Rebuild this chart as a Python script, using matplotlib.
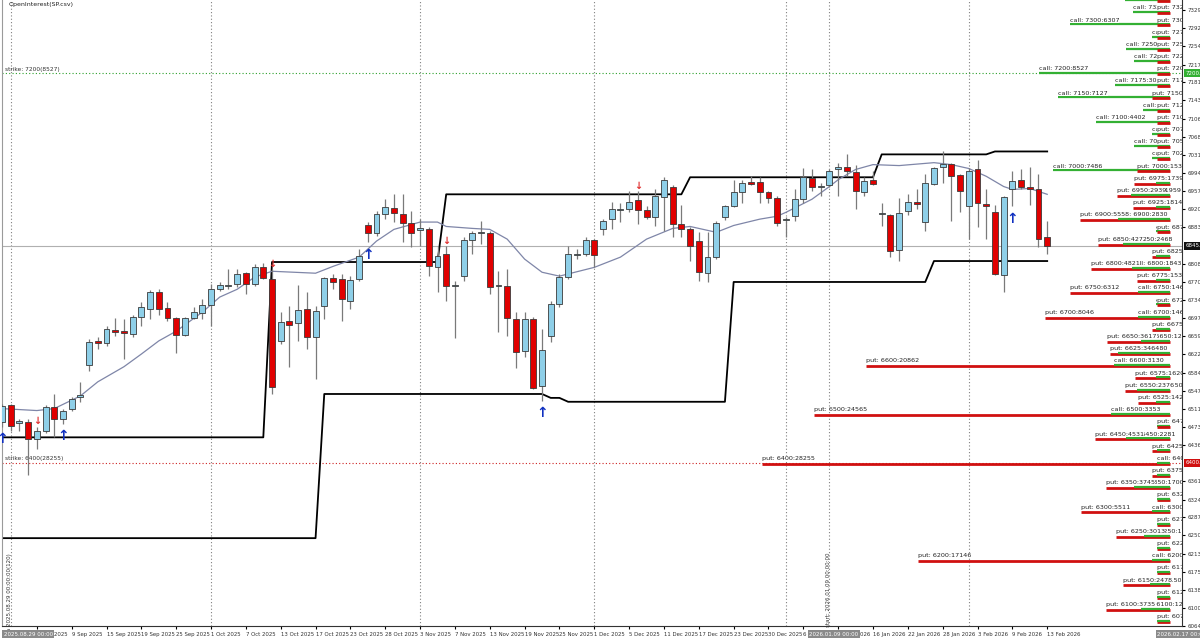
import numpy as np
import matplotlib
matplotlib.use("Agg")
import matplotlib.pyplot as plt
from matplotlib.transforms import offset_copy

# ---------------- data ----------------
opens = [6484,6519,6482,6484,6449,6464,6515,6490,6511,6535,6601,6650,6646,6672,6670,6664,6699,6715,6750,6717,
         6697,6662,6697,6707,6724,6756,6763,6767,6789,6767,6801,6777,6650,6691,6687,6715,6658,6722,6779,6777,
         6732,6777,6887,6871,6910,6922,6910,6892,6877,6879,6801,6828,6763,6783,6857,6871,6871,6763,6763,6695,
         6630,6695,6558,6660,6726,6781,6826,6828,6857,6879,6900,6918,6920,6939,6918,6904,6945,6967,6890,6879,
         6855,6789,6822,6904,6928,6955,6977,6977,6955,6943,6898,6906,6941,6984,6965,6971,7004,7008,6996,6955,
         6981,6910,6908,6836,6916,6936,6894,6973,7008,7014,6990,6928,7002,6932,6914,6785,6961,6981,6965,6961,6863]
highs = [6521,6521,6490,6490,6474,6519,6541,6511,6535,6566,6654,6658,6681,6697,6695,6703,6730,6754,6756,6730,
         6699,6699,6720,6736,6767,6771,6797,6797,6791,6808,6810,6797,6709,6722,6765,6750,6722,6781,6787,6787,
         6783,6838,6894,6916,6941,6951,6951,6916,6900,6883,6844,6844,6773,6863,6875,6896,6875,6793,6797,6709,
         6709,6699,6674,6732,6787,6844,6838,6863,6859,6900,6936,6934,6957,6957,6926,6961,6986,6971,6930,6883,
         6873,6873,6896,6930,6981,6981,6988,6986,6957,6947,6904,6961,7006,7002,6975,7002,7016,7033,7012,6986,
         6998,6934,6910,6943,6951,6961,6992,7008,7039,7016,6992,7006,7022,6961,6930,6947,6998,7002,7008,6992,6896]
lows = [6474,6464,6464,6374,6429,6460,6453,6480,6507,6525,6589,6634,6640,6660,6613,6658,6681,6695,6703,6691,
        6625,6660,6695,6695,6681,6752,6756,6761,6746,6763,6777,6541,6644,6597,6650,6634,6572,6695,6756,6691,
        6715,6773,6853,6865,6900,6894,6853,6842,6844,6783,6750,6732,6656,6773,6828,6848,6746,6668,6660,6595,
        6617,6552,6527,6648,6720,6777,6818,6824,6801,6867,6879,6894,6914,6890,6900,6885,6875,6863,6863,6814,
        6773,6771,6818,6898,6924,6934,6971,6934,6934,6885,6863,6896,6934,6957,6947,6967,6947,6988,6920,6947,
        6971,6885,6822,6814,6908,6920,6875,6971,6975,6896,6914,6859,6883,6859,6785,6750,6926,6961,6930,6842,6828]
closes = [6517,6476,6486,6449,6464,6515,6490,6507,6531,6539,6648,6646,6674,6668,6666,6699,6720,6750,6715,6697,
          6662,6697,6709,6724,6756,6765,6765,6787,6767,6801,6779,6556,6689,6683,6713,6658,6711,6779,6771,6736,
          6775,6824,6871,6910,6924,6912,6892,6871,6881,6803,6824,6763,6765,6857,6871,6873,6761,6765,6697,6627,
          6695,6554,6632,6726,6781,6828,6828,6857,6826,6896,6920,6920,6936,6918,6904,6947,6981,6890,6879,6844,
          6791,6822,6892,6926,6955,6975,6973,6955,6943,6892,6900,6941,6986,6965,6967,6998,7008,6998,6957,6979,
          6973,6912,6834,6912,6936,6932,6975,7006,7014,6988,6957,6998,6934,6926,6787,6945,6979,6967,6961,6859,6844]

ma_idx = [0,4,6,9,11,14,16,18,20,23,25,27,29,31,36,38,41,43,45,48,50,51,54,56,58,60,62,64,68,71,74,77,79,
          82,84,87,89,90,93,95,96,98,100,103,107,109,111,113,115,116,118,120]
ma_vals = [6511,6507,6511,6537,6566,6597,6623,6650,6670,6709,6740,6756,6781,6793,6789,6803,6822,6855,6879,6894,
           6894,6885,6881,6879,6859,6818,6791,6783,6801,6822,6859,6881,6885,6873,6887,6900,6906,6914,6941,6967,
           6981,7002,7012,7010,7016,7012,7004,6988,6967,6961,6963,6951]

upper_levels = [6452, 6812, 6951, 6986, 7033, 7039]
upper_runs = [31, 20, 28, 22, 13, 7]
lower_levels = [6245, 6541, 6533, 6525, 6771, 6814]
lower_runs = [37, 26, 2, 19, 23, 14]

buy_arrows = [0, 7, 42, 62, 116]
sell_arrows = [4, 31, 51, 73]

strikes = list(range(7350, 6050, -25))
call_oi = [2360,1758,6307,430,2290,1700,8527,3062,7127,1070,4402,430,1700,430,7486,120,1959,150,2830,150,
           2468,150,1843,150,1460,120,1460,150,1250,2880,3130,150,1500,120,3353,100,2281,100,60,80,
           1700,70,430,60,1000,60,430,60,600,60,1200,40]
put_oi = [40,45,60,50,60,50,70,60,430,60,70,60,80,90,1530,1739,2939,1814,5558,80,
          4272,430,4821,1530,6312,90,8046,430,3617,3464,20862,1620,2376,1420,24565,90,4531,430,28255,430,
          3745,90,5511,90,3013,90,17146,90,2478,90,3735,90]

date_labels = ["3 Sep 2025","9 Sep 2025","15 Sep 2025","19 Sep 2025","25 Sep 2025","1 Oct 2025","7 Oct 2025",
               "13 Oct 2025","17 Oct 2025","23 Oct 2025","28 Oct 2025","3 Nov 2025","7 Nov 2025","13 Nov 2025",
               "19 Nov 2025","25 Nov 2025","1 Dec 2025","5 Dec 2025","11 Dec 2025","17 Dec 2025","23 Dec 2025",
               "30 Dec 2025","6 Jan 2026","12 Jan 2026","16 Jan 2026","22 Jan 2026","28 Jan 2026","3 Feb 2026",
               "9 Feb 2026","13 Feb 2026"]
date_pos = list(range(4, 121, 4))
month_lines = [1, 24, 48, 68, 90, 111]

price_ticks = [6064.6,6100.9,6138.3,6175.7,6213.1,6250.5,6287.9,6324.2,6361.6,6436.4,6473.8,6511.2,6547.5,
               6584.9,6622.3,6659.7,6697.1,6734.5,6770.8,6808.3,6883.0,6920.4,6957.8,6994.1,7031.5,7068.9,
               7106.3,7143.7,7181.1,7217.4,7254.8,7292.2,7329.6]
last_price = 6845

# ---------------- figure ----------------
W, H = 1200, 638
fig = plt.figure(figsize=(W/100, H/100), dpi=100)
ax = fig.add_axes([2/W, 12/H, 1180/W, 626/H])
px_per_bar = 8.71
ax.set_xlim(0, 1180/px_per_bar)
ax.set_ylim(6066, 7350)

n = len(opens)
x = np.arange(n)
o = np.array(opens); c = np.array(closes); h = np.array(highs); l = np.array(lows)
up = c >= o

for m in month_lines:
    ax.axvline(m, color="#808080", ls=(0, (1, 2)), lw=0.8, zorder=0)
ax.axvline(95, color="#808080", ls=(0, (1, 2)), lw=0.8, zorder=0)

ax.axhline(7200, color="#2ca02c", ls=(0, (1, 2)), lw=0.8, zorder=0)
ax.axhline(6400, color="#cc2222", ls=(0, (1, 2)), lw=0.8, zorder=0)
ax.axhline(last_price, color="#b0b0b0", lw=0.8, zorder=0)

upper = np.repeat(upper_levels, upper_runs)
lower = np.repeat(lower_levels, lower_runs)
ax.plot(x, upper, color="black", lw=1.3, zorder=2)
ax.plot(x, lower, color="black", lw=1.3, zorder=2)

ax.plot(ma_idx, ma_vals, color="#7f86a8", lw=0.9, zorder=3)

ax.vlines(x, l, h, color="#7a7a7a", lw=0.9, zorder=4)
body_bot = np.minimum(o, c)
body_h = np.maximum(np.abs(c - o), 2.5)
ax.bar(x[up], body_h[up], bottom=body_bot[up], width=0.68, color="#8ecfe8", edgecolor="#3a3a3a", lw=0.6, zorder=5)
ax.bar(x[~up], body_h[~up], bottom=body_bot[~up], width=0.68, color="#e00000", edgecolor="#3a3a3a", lw=0.6, zorder=5)

for i in buy_arrows:
    ax.annotate("\u2191", (i, l[i]), xytext=(0, -9), textcoords="offset points", ha="center", va="center",
                color="#1030c0", fontsize=10, fontweight="bold", zorder=6)
for i in sell_arrows:
    ax.annotate("\u2193", (i, h[i]), xytext=(0, 4), textcoords="offset points", ha="center", va="center",
                color="#e03030", fontsize=7, fontweight="bold", zorder=6)

# open interest bars
end_x = 1168/px_per_bar
trans_txt = offset_copy(ax.transData, fig=fig, x=0, y=1.8, units="dots")
trans_put = offset_copy(ax.transData, fig=fig, x=0, y=-1.0, units="dots")
for s, co, po in zip(strikes, call_oi, put_oi):
    lc = (12 + 0.014*co)/px_per_bar
    lp = (12 + 0.014*po)/px_per_bar
    z_c, z_p = (7.5, 7) if lc < lp else (7, 7.5)
    ax.plot([end_x - lp, end_x], [s, s], color="#d01010", lw=2.0, transform=trans_put, zorder=z_p, solid_capstyle="butt")
    ax.plot([end_x - lc, end_x], [s, s], color="#33b033", lw=1.6, zorder=z_c, solid_capstyle="butt")
    ax.text(end_x - lc, s, f"call: {s}:{co}", transform=trans_txt, fontsize=4.6, color="#222222",
            va="bottom", ha="left", clip_on=True, zorder=8,
            bbox=dict(facecolor="white", edgecolor="none", pad=0))
    ax.text(end_x - lp, s, f"put: {s}:{po}", transform=trans_txt, fontsize=4.6, color="#222222",
            va="bottom", ha="left", clip_on=True, zorder=9,
            bbox=dict(facecolor="white", edgecolor="none", pad=0))

ax.text(0.8, 7340, "OpenInterest(SP.csv)", fontsize=4.5, color="#222222", va="center")
ax.text(0.3, 7203, "strike: 7200(8527)", fontsize=4.2, color="#333333", va="bottom")
ax.text(0.3, 6403, "strike: 6400(28255)", fontsize=4.2, color="#333333", va="bottom")
ax.text(0.6, 6120, "prima 2025.08.29 00:00:00(120)", fontsize=4.0, rotation=90, color="#333333", va="center")
ax.text(94.6, 6140, "start: 2026.01.09 00:00:00", fontsize=4.0, rotation=90, color="#333333", va="center")

ax.spines["top"].set_visible(False)
ax.spines["left"].set_color("#9a9a9a")
ax.spines["right"].set_color("#333333")
ax.spines["bottom"].set_color("#333333")
ax.yaxis.tick_right()
ax.set_yticks(price_ticks)
ax.set_yticklabels([f"{v:.1f}" for v in price_ticks], fontsize=4.0, color="#333333")
ax.tick_params(axis="y", length=2, pad=2)
ax.set_xticks(date_pos)
ax.set_xticklabels(date_labels, fontsize=3.9, color="#333333", ha="left")
ax.tick_params(axis="x", length=2, pad=2)

tr = ax.get_yaxis_transform()
for val, col in [(7200, "#33b033"), (6400, "#d01010"), (last_price, "#111111")]:
    ax.text(1.003, val, f"{val:.1f}", transform=tr, fontsize=4.0, color="white", va="center", clip_on=False,
            bbox=dict(facecolor=col, edgecolor="none", pad=1))

trx = ax.get_xaxis_transform()
ax.text(0.2, -0.013, "2025.08.29 00:00", transform=trx, fontsize=4.0, color="white", va="center", clip_on=False,
        bbox=dict(facecolor="#8a8a8a", edgecolor="none", pad=1))
ax.text(92.7, -0.013, "2026.01.09 00:00", transform=trx, fontsize=4.0, color="white", va="center", clip_on=False,
        bbox=dict(facecolor="#8a8a8a", edgecolor="none", pad=1), zorder=10)
ax.text(1.0, -0.013, "2026.02.17 00:00", transform=ax.transAxes, fontsize=4.0, color="white", va="center",
        ha="center", clip_on=False, bbox=dict(facecolor="#8a8a8a", edgecolor="none", pad=1))

fig.savefig("out.png", dpi=100, facecolor="white")
